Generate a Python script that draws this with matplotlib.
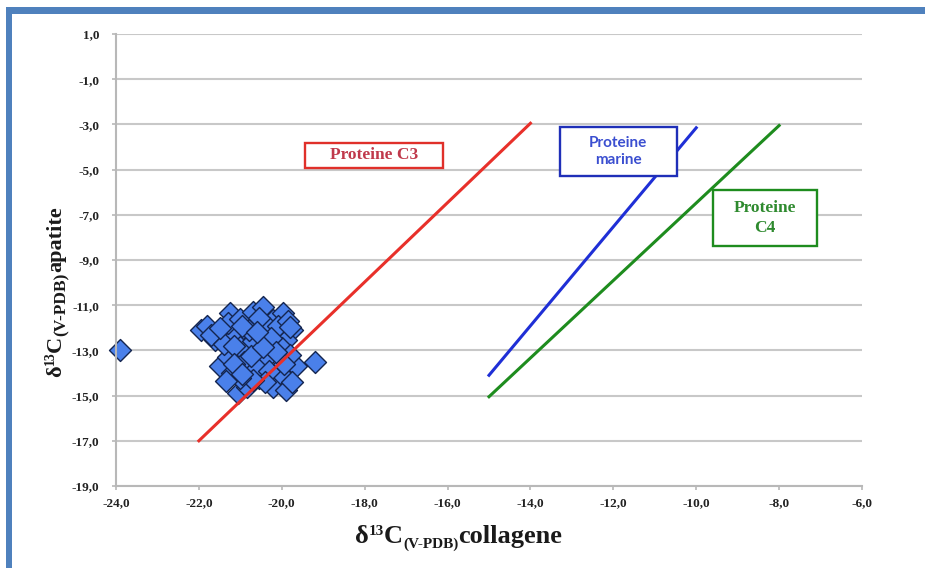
import matplotlib
matplotlib.use("Agg")
import matplotlib.pyplot as plt
from matplotlib.patches import Rectangle
from matplotlib.ticker import FuncFormatter

# ---- data ----
collagene = [-23.9, -21.95, -21.8, -21.6, -21.7, -21.25, -21.1, -21.3, -21.0,
             -20.85, -20.7, -20.45, -20.6, -20.2, -19.97, -19.75, -19.9,
             -19.2, -21.5, -21.2, -21.05, -20.85, -20.2, -19.9, -20.35,
             -20.5, -19.65, -20.05, -20.55, -21.3, -21.0, -20.7, -20.3,
             -20.0, -19.8, -20.9, -20.6, -20.3, -21.4, -20.1, -20.8,
             -19.85, -20.4, -20.7, -21.0,
             -21.5, -21.15, -20.95, -20.55, -20.25, -19.95, -20.15, -20.75,
             -21.15, -20.45, -19.75, -20.95, -21.35, -20.6, -19.8]
apatite = [-13.0, -12.1, -11.9, -12.55, -12.3, -11.35, -12.3, -11.8, -11.6,
           -13.1, -11.3, -11.1, -11.9, -11.65, -11.35, -12.1, -12.55,
           -13.5, -13.7, -14.0, -14.9, -14.6, -14.6, -14.75, -13.3,
           -12.25, -13.7, -14.0, -14.2, -13.3, -12.85, -12.6, -12.0,
           -12.9, -13.2, -13.5, -13.8, -13.9, -12.7, -11.9, -12.1,
           -11.7, -14.4, -14.3, -14.2,
           -12.0, -12.8, -11.9, -11.55, -12.45, -13.6, -13.05, -13.25,
           -13.6, -12.85, -14.4, -14.05, -14.35, -12.2, -11.95]

c3_x = [-22.0, -14.0]
c3_y = [-17.0, -2.95]
marine_x = [-15.0, -10.0]
marine_y = [-14.1, -3.15]
c4_x = [-15.0, -8.0]
c4_y = [-15.05, -3.05]

xticks = [-24, -22, -20, -18, -16, -14, -12, -10, -8, -6]
yticks = [1, -1, -3, -5, -7, -9, -11, -13, -15, -17, -19]

W, H = 925, 568
fig = plt.figure(figsize=(W / 100, H / 100), dpi=100)
fig.patch.set_facecolor('white')
# blue frame (top and left)
fig.add_artist(Rectangle((0.006, 0.976), 0.994, 0.011, transform=fig.transFigure,
                         facecolor='#4f81bd', edgecolor='none'))
fig.add_artist(Rectangle((0.006, 0.0), 0.0075, 0.987, transform=fig.transFigure,
                         facecolor='#4f81bd', edgecolor='none'))

ax = fig.add_axes([116 / W, 1 - 486 / H, 746 / W, 452 / H])
ax.set_xlim(-24, -6)
ax.set_ylim(-19, 1)
ax.set_xticks(xticks)
ax.set_yticks(yticks)
fmt = FuncFormatter(lambda v, p: f"{v:.1f}".replace('.', ','))
ax.xaxis.set_major_formatter(fmt)
ax.yaxis.set_major_formatter(fmt)
for lab in ax.get_xticklabels() + ax.get_yticklabels():
    lab.set_fontfamily('Liberation Serif')
    lab.set_fontweight('bold')
    lab.set_fontsize(9.5)
ax.tick_params(axis='both', colors='#b8b8b8', labelcolor='#222222', length=3, width=1.2)
ax.tick_params(axis='y', pad=9)
ax.tick_params(axis='x', pad=5)

ax.yaxis.grid(True, color='#c8c8c8', linewidth=1.5)
ax.set_axisbelow(True)
for s in ['top', 'right']:
    ax.spines[s].set_visible(False)
for s in ['left', 'bottom']:
    ax.spines[s].set_color('#b8b8b8')
    ax.spines[s].set_linewidth(1.5)

ax.plot(c3_x, c3_y, color='#e8302a', linewidth=2.2, zorder=3)
ax.plot(marine_x, marine_y, color='#1f2fd6', linewidth=2.2, zorder=3)
ax.plot(c4_x, c4_y, color='#1e8c1e', linewidth=2.2, zorder=3)

ax.scatter(collagene, apatite, marker='D', s=125, facecolor='#4a80ea',
           edgecolor='#14254f', linewidth=1.0, zorder=2, clip_on=False)

# annotation boxes
def box(x0, x1, y0, y1, ec):
    ax.add_patch(Rectangle((x0, y0), x1 - x0, y1 - y0, facecolor='white',
                           edgecolor=ec, linewidth=1.7, zorder=5))

box(-19.44, -16.11, -4.93, -3.82, '#e0302a')
ax.text(-17.78, -4.36, 'Proteine C3', ha='center', va='center',
        fontfamily='Liberation Serif', fontweight='bold', fontsize=12.5,
        color='#c0394b', zorder=6)
box(-13.29, -10.46, -5.28, -3.115, '#1f2fb8')
ax.text(-11.88, -4.2, 'Proteine\nmarine', ha='center', va='center',
        fontfamily='Lato', fontweight='bold', fontsize=11,
        color='#3b4fd0', linespacing=1.2, zorder=6)
box(-9.59, -7.08, -8.38, -5.90, '#1e8c1e')
ax.text(-8.335, -7.14, 'Proteine\nC4', ha='center', va='center',
        fontfamily='Liberation Serif', fontweight='bold', fontsize=12.5,
        color='#2e8a2e', linespacing=1.27, zorder=6)

# compound axis labels (δ13C with sub/superscripts)
renderer = fig.canvas.get_renderer()

def compound(x_px, y_px, pieces, rotation=0):
    widths = []
    for txt, size, dy in pieces:
        t = fig.text(0, 0, txt, fontsize=size, fontfamily='Liberation Serif',
                     fontweight='bold')
        widths.append(t.get_window_extent(renderer).width)
        t.remove()
    pos = 0.0
    for (txt, size, dy), w in zip(pieces, widths):
        if rotation == 0:
            x, y = x_px + pos, y_px + dy
        else:
            x, y = x_px - dy, y_px + pos
        fig.text(x / W, y / H, txt, fontsize=size, fontfamily='Liberation Serif',
                 fontweight='bold', color='#1a1a1a', ha='left', va='baseline',
                 rotation=rotation, rotation_mode='anchor')
        pos += w

compound(355, H - 543, [('δ', 19, 0), ('13', 11, 8), ('C', 19, 0),
                        ('(V-PDB)', 11, -5), ('collagene', 19, 0)])
compound(61, H - 377, [('δ', 16, 0), ('13', 10, 7), ('C', 16, 0),
                       ('(V-PDB)', 12.5, -5), ('apatite', 16, 0)], rotation=90)

fig.savefig('out.png', dpi=100)
